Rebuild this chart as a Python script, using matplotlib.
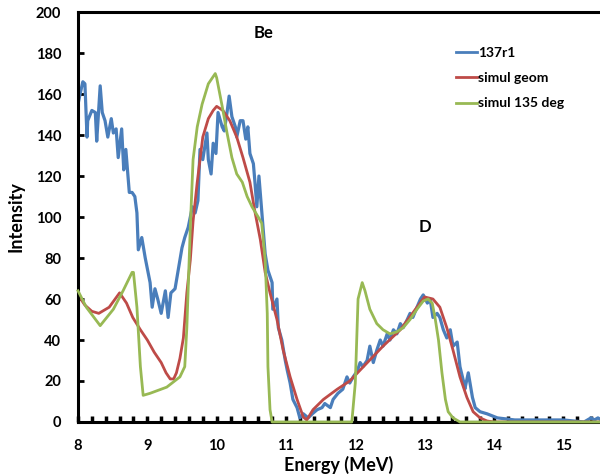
import numpy as np
import matplotlib
matplotlib.use("Agg")
from matplotlib import pyplot as plt
from matplotlib.ticker import MultipleLocator

plt.rcParams['font.family'] = ['Lato', 'DejaVu Sans']
plt.rcParams['font.weight'] = 'bold'

# measured spectrum 137r1
eBlue = [8.00, 8.03, 8.07, 8.10, 8.13, 8.14, 8.20, 8.25, 8.27, 8.32, 8.35, 8.39, 8.43, 8.48,
         8.51, 8.55, 8.58, 8.63, 8.66, 8.69, 8.74, 8.78, 8.82, 8.85, 8.87, 8.92, 8.97, 9.01,
         9.04, 9.07, 9.11, 9.15, 9.20, 9.26, 9.30, 9.34, 9.40, 9.44, 9.50, 9.54, 9.59, 9.65,
         9.69, 9.73, 9.76, 9.80, 9.86, 9.88, 9.92, 9.95, 9.99, 10.02, 10.08, 10.11, 10.15,
         10.18, 10.22, 10.27, 10.29, 10.34, 10.38, 10.42, 10.45, 10.48, 10.53, 10.55, 10.58,
         10.61, 10.66, 10.70, 10.74, 10.80, 10.81, 10.87, 10.89, 10.94, 10.99, 11.02, 11.06,
         11.10, 11.16, 11.20, 11.25, 11.32, 11.38, 11.45, 11.52, 11.56, 11.64, 11.68, 11.75,
         11.82, 11.88, 11.92, 11.97, 12.03, 12.07, 12.11, 12.17, 12.21, 12.26, 12.31, 12.36,
         12.40, 12.46, 12.50, 12.55, 12.60, 12.65, 12.69, 12.75, 12.79, 12.83, 12.89, 12.94,
         12.98, 13.04, 13.08, 13.12, 13.18, 13.22, 13.27, 13.32, 13.37, 13.41, 13.47, 13.51,
         13.56, 13.58, 13.63, 13.69, 13.73, 13.80, 13.90, 14.05, 14.3, 14.6, 15.0, 15.3,
         15.4, 15.45, 15.5, 15.55]
iBlue = [155, 160, 166, 165, 139, 147, 152, 151, 137, 164, 151, 147, 139, 148,
         141, 143, 129, 143, 123, 133, 112, 112, 110, 102, 84, 90, 80, 73,
         68, 56, 65, 60, 53, 64, 51, 63, 65, 73, 85, 90, 95, 105,
         102, 108, 133, 128, 141, 128, 121, 136, 131, 151, 144, 142, 151,
         159, 149, 144, 139, 147, 147, 138, 144, 131, 126, 118, 105,
         120, 99, 82, 74, 68, 55, 60, 46, 40, 30, 25, 19,
         11, 7, 2, 4, 2, 4, 6, 7, 9, 7, 11, 14,
         16, 22, 19, 22, 25, 29, 27, 30, 37, 29, 35, 40,
         37, 43, 40, 45, 43, 48, 46, 50, 53, 51, 56, 60,
         62, 58, 60, 51, 53, 51, 45, 41, 45, 37, 39, 27,
         20, 16, 24, 12, 7, 5, 4, 2, 1, 1, 1, 0,
         2, 1, 2, 1]

# simulation, geometric
eRed = [8.00, 8.10, 8.20, 8.30, 8.45, 8.60, 8.70, 8.79, 8.90, 9.00, 9.10, 9.20, 9.27,
        9.33, 9.38, 9.42, 9.47, 9.52, 9.57,
        9.62, 9.66, 9.72, 9.76, 9.80, 9.88, 9.95, 10.00, 10.09, 10.19, 10.29, 10.38,
        10.48, 10.55, 10.63, 10.70, 10.77, 10.87, 10.96, 11.06, 11.16, 11.25, 11.30,
        11.39, 11.54, 11.74, 11.92, 12.40, 12.65, 12.89, 13.00, 13.12, 13.22, 13.32,
        13.41, 13.51, 13.61, 13.70, 13.80, 13.90, 14.0, 15.55]
iRed = [62, 57, 54, 53, 56, 63, 58, 51, 45, 40, 34, 29, 24,
        21, 21, 24, 31, 41, 63,
        79, 98, 117, 128, 139, 148, 152, 154, 152, 147, 139, 129,
        117, 103, 89, 73, 63, 50, 35, 22, 11, 2.4, 1,
        6, 11, 16, 20, 37, 45, 56, 61, 60, 56, 46,
        35, 22, 12, 5, 2, 0.5, 0, 0]

# simulation, 135 deg
eGreen = [8.00, 8.12, 8.32, 8.51, 8.65, 8.78, 8.80, 8.85, 8.90, 8.94, 9.04, 9.28, 9.47,
          9.54, 9.57, 9.62, 9.66, 9.72, 9.79, 9.88, 9.98, 10.00, 10.08, 10.15, 10.22,
          10.29, 10.37, 10.44, 10.51, 10.60, 10.65, 10.70, 10.73, 10.74, 10.77, 10.80,
          11.95, 12.00, 12.04, 12.10, 12.14, 12.21, 12.31, 12.40, 12.50, 12.60, 12.69,
          12.79, 12.89, 12.98, 13.05, 13.11, 13.15, 13.20, 13.25, 13.30, 13.34, 13.41,
          13.51, 15.55]
iGreen = [64, 56, 47, 55, 64, 73, 73, 56, 27, 13, 14, 17, 22,
          27, 46, 95, 128, 144, 155, 165, 170, 168, 154, 141, 129,
          121, 117, 110, 105, 100, 97, 79, 53, 27, 6, 0,
          0, 19, 60, 68, 64, 55, 48, 45, 43, 44, 46,
          50, 55, 59, 60, 58, 51, 40, 24, 11, 5, 2,
          0, 0]

fig = plt.figure(figsize=(6, 4.75), dpi=100)
ax = fig.add_axes([0.13, 0.1116, 0.87, 0.863])

ax.plot(eBlue, iBlue, color='#4a7ebb', lw=2.3, label='137r1', zorder=3)
ax.plot(eRed, iRed, color='#be4b48', lw=2.0, label='simul geom', zorder=4)
ax.plot(eGreen, iGreen, color='#98b954', lw=2.0, label='simul 135 deg', zorder=7,
        clip_on=False)

ax.set_xlim(8, 15.53)
ax.set_ylim(0, 200)
ax.xaxis.set_major_locator(MultipleLocator(1))
ax.xaxis.set_minor_locator(MultipleLocator(0.2))
ax.yaxis.set_major_locator(MultipleLocator(20))

for s in ['left', 'top', 'bottom']:
    ax.spines[s].set_linewidth(2.2)
    ax.spines[s].set_zorder(6)
ax.spines['right'].set_visible(False)

ax.tick_params(axis='x', which='both', direction='in', length=4, width=2.5,
               labelsize=10.5, pad=12, top=False)
ax.tick_params(axis='y', which='major', direction='in', length=4, width=2,
               labelsize=10.5, pad=12, right=False)
for lab in ax.get_xticklabels() + ax.get_yticklabels():
    lab.set_fontweight('bold')

ax.set_xlabel('Energy (MeV)', fontsize=13, fontweight='bold', labelpad=2)
ax.set_ylabel('Intensity', fontsize=13, fontweight='bold', labelpad=8)

ax.text(10.67, 190, 'Be', fontsize=12, fontweight='bold', ha='center', va='center')
ax.text(13.0, 95, 'D', fontsize=12, fontweight='bold', ha='center', va='center')

leg = ax.legend(loc='upper left', bbox_to_anchor=(0.7, 0.945), frameon=False,
                handlelength=1.5, handletextpad=0.1, labelspacing=0.95,
                prop={'size': 10, 'weight': 'bold'})
for h in leg.get_lines():
    h.set_linewidth(2)

fig.savefig('out.png', dpi=100)
